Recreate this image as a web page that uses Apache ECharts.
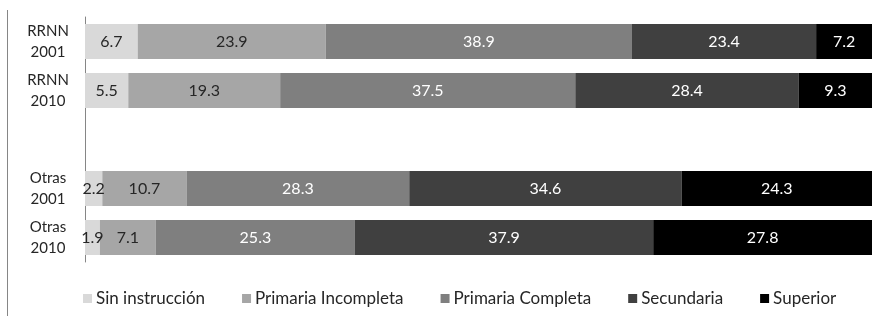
<!DOCTYPE html>
<html>
<head>
<meta charset="utf-8">
<script src="https://cdn.jsdelivr.net/npm/echarts@6/dist/echarts.min.js"></script>
<style>
  html, body { margin: 0; padding: 0; background: #fff; }
  #chart { width: 880px; height: 316px; }
</style>
</head>
<body>
<div id="chart"></div>
<script>
// categorías (la vacía deja el hueco entre grupos)
const categorias = ["RRNN\n2001", "RRNN\n2010", "", "Otras\n2001", "Otras\n2010"];
const series_nombres = ["Sin instrucción", "Primaria Incompleta", "Primaria Completa", "Secundaria", "Superior"];
const sin_instruccion = [6.7, 5.5, null, 2.2, 1.9];
const primaria_incompleta = [23.9, 19.3, null, 10.7, 7.1];
const primaria_completa = [38.9, 37.5, null, 28.3, 25.3];
const secundaria = [23.4, 28.4, null, 34.6, 37.9];
const superior = [7.2, 9.3, null, 24.3, 27.8];

const valores = [sin_instruccion, primaria_incompleta, primaria_completa, secundaria, superior];
const colores = ["#d9d9d9", "#a6a6a6", "#7f7f7f", "#404040", "#000000"];
const colores_texto = ["#262626", "#262626", "#ffffff", "#ffffff", "#ffffff"];

let myChart = echarts.init(document.getElementById("chart"));
let option = {
  backgroundColor: "#fff",
  animation: false,
  textStyle: { fontFamily: "Lato" },
  grid: { left: 85, right: 8, top: 17, bottom: 54 },
  legend: {
    left: 78,
    top: 285,
    itemWidth: 9,
    itemHeight: 9,
    itemGap: 37,
    icon: "rect",
    textStyle: { fontSize: 17, color: "#262626", padding: [0, 0, 0, -1] },
    data: series_nombres
  },
  graphic: [{
    type: "line",
    shape: { x1: 7.5, y1: 10, x2: 7.5, y2: 316 },
    style: { stroke: "#868686", lineWidth: 1 }
  }],
  xAxis: {
    type: "value",
    min: 0,
    max: 100,
    show: false
  },
  yAxis: {
    type: "category",
    data: categorias,
    inverse: true,
    axisLine: { show: true, lineStyle: { color: "#868686", width: 1 } },
    axisTick: { show: false },
    axisLabel: {
      align: "center",
      margin: 37,
      fontSize: 15,
      lineHeight: 21,
      color: "#262626"
    }
  },
  series: series_nombres.map((n, i) => ({
    name: n,
    type: "bar",
    stack: "total",
    barWidth: 35,
    data: valores[i],
    itemStyle: { color: colores[i] },
    label: {
      show: true,
      position: "inside",
      fontSize: 16,
      color: colores_texto[i],
      formatter: p => p.value.toFixed(1)
    }
  }))
};
myChart.setOption(option);
</script>
</body>
</html>
